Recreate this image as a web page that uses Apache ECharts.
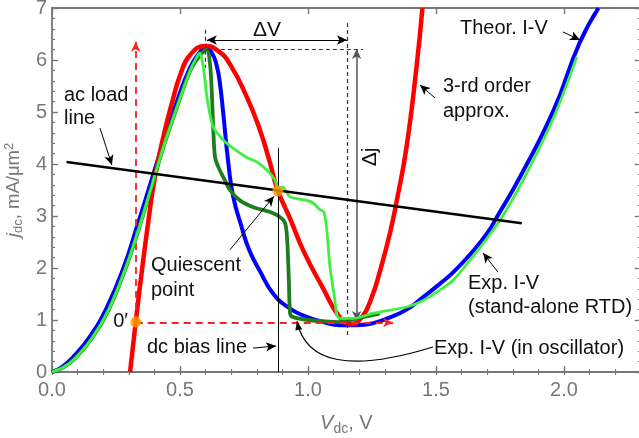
<!DOCTYPE html>
<html><head><meta charset="utf-8">
<script src="https://cdn.jsdelivr.net/npm/echarts@6/dist/echarts.min.js"></script>
<style>html,body{margin:0;padding:0;background:#fff}#c{width:639px;height:438px}</style>
</head><body><div id="c"></div>
<script>
// ---------- data ----------
const theorIV = [[0,0],[0.04,0.1],[0.083,0.29],[0.148,0.68],[0.214,1.24],[0.279,2.0],[0.331,2.78],[0.383,3.6],[0.435,4.42],[0.488,5.2],[0.539,5.85],[0.575,6.13],[0.60,6.25],[0.625,6.13],[0.643,5.9],[0.656,5.55],[0.669,4.97],[0.689,4.01],[0.708,3.37],[0.74,2.8],[0.77,2.35],[0.81,1.96],[0.865,1.5],[0.93,1.22],[0.995,1.06],[1.06,0.96],[1.125,0.9],[1.19,0.9],[1.255,0.94],[1.32,1.05],[1.385,1.2],[1.44,1.4],[1.516,1.7],[1.568,1.92],[1.64,2.3],[1.70,2.67],[1.738,2.98],[1.828,3.75],[1.96,5.04],[2.06,6.32],[2.135,7.0]];
const expStandalone = [[0,0],[0.045,0.09],[0.09,0.26],[0.155,0.64],[0.22,1.18],[0.285,1.96],[0.337,2.72],[0.39,3.58],[0.44,4.4],[0.49,5.12],[0.54,5.8],[0.566,6.06],[0.578,6.13],[0.588,5.95],[0.598,5.6],[0.605,5.29],[0.63,4.71],[0.669,4.46],[0.708,4.3],[0.76,4.13],[0.80,4.04],[0.84,3.88],[0.87,3.7],[0.885,3.52],[0.90,3.56],[0.93,3.37],[0.995,3.3],[1.02,3.25],[1.047,3.12],[1.062,3.08],[1.074,2.7],[1.086,2.02],[1.105,1.38],[1.113,1.1],[1.125,1.03],[1.176,1.03],[1.255,1.13],[1.385,1.25],[1.44,1.35],[1.516,1.58],[1.568,1.77],[1.66,2.32],[1.75,2.92],[1.84,3.69],[1.96,4.9],[2.05,6.06]];
const expOscillator = [[0,0],[0.045,0.09],[0.09,0.26],[0.155,0.64],[0.22,1.18],[0.285,1.96],[0.337,2.72],[0.39,3.58],[0.44,4.4],[0.49,5.12],[0.54,5.8],[0.58,6.1],[0.604,6.2],[0.617,5.94],[0.625,5.29],[0.63,4.65],[0.637,4.13],[0.65,3.94],[0.669,3.75],[0.695,3.5],[0.734,3.3],[0.786,3.17],[0.85,3.08],[0.89,2.98],[0.91,2.87],[0.918,2.6],[0.925,1.8],[0.93,1.13],[0.94,1.06],[1.0,1.0],[1.125,0.96],[1.19,1.03],[1.28,1.12]];
const cubicApprox = [[0.305,0],[0.327,0.96],[0.35,1.9],[0.375,2.85],[0.402,3.75],[0.441,4.65],[0.47,5.2],[0.50,5.7],[0.54,6.1],[0.60,6.27],[0.65,6.17],[0.695,5.92],[0.76,5.3],[0.8125,4.65],[0.85,4.05],[0.88,3.52],[0.93,2.95],[0.985,2.3],[1.06,1.6],[1.12,1.08],[1.165,0.92],[1.21,1.05],[1.25,1.45],[1.28,1.92],[1.32,2.67],[1.347,3.3],[1.385,4.33],[1.424,5.87],[1.447,7.0]];
const acLoadLine = [[0.057,4.04],[1.835,2.86]];
const specialPoints = [[0.882,3.48],[0.327,0.96]];
const xTickLabels = ['0.0','0.5','1.0','1.5','2.0'];
const yTickLabels = ['0','1','2','3','4','5','6','7'];

// annotation geometry in data coordinates
const pointerArrows = [
  [[0.1875,4.69],[0.234,3.98]],
  [[1.496,5.27],[1.4375,5.52]],
  [[1.996,6.54],[2.0625,6.385]],
  [[1.742,1.92],[1.684,2.29]],
  [[0.695,2.35],[0.867,3.38]],
  [[0.785,0.46],[0.875,0.5]]
];
const deltaV = [[0.605,6.385],[1.152,6.385]];
const deltaJ = [[1.19,6.21],[1.19,0.98]];
const blackDashed = [
  [[0.605,6.21],[1.215,6.21]],
  [[1.152,6.71],[1.152,0.67]],
  [[0.598,6.58],[0.598,5.85]]
];
const redDashedArrows = [
  [[0.327,0.96],[0.327,6.35]],
  [[0.327,0.95],[1.332,0.95]]
];
const biasVertical = [[0.882,0],[0.882,4.31]];
const hookArrow = [[1.488,0.48],[1.008,-0.25],[0.957,0.98]];

// ---------- chart ----------
const FONT = "'Liberation Sans', Arial, sans-serif";
const GRAY = '#787878';
const chart = echarts.init(document.getElementById('c'), null, {renderer:'canvas'});

function seg(a, b, style, s0, s1) {
  return [{coord:a, symbol:s0, lineStyle:style}, {coord:b, symbol:s1, lineStyle:style}];
}
const thin = {color:'#000', width:1, type:'solid'};
const mlData = [];
pointerArrows.forEach(p => mlData.push(seg(p[0], p[1], thin, 'none', 'arrow')));
mlData.push(seg(deltaV[0], deltaV[1], thin, 'arrow', 'arrow'));
mlData.push(seg(deltaJ[0], deltaJ[1], {color:'#555', width:1.5, type:'solid'}, 'arrow', 'arrow'));
blackDashed.forEach(p => mlData.push(seg(p[0], p[1], {color:'#333', width:1.2, type:[4,3]}, 'none', 'none')));
redDashedArrows.forEach(p => mlData.push(seg(p[0], p[1], {color:'#ff2020', width:1.8, type:[7,5]}, 'none', 'arrow')));
mlData.push(seg(biasVertical[0], biasVertical[1], {color:'#000', width:1, type:'solid'}, 'none', 'none'));

const tickLabelFmt = (arr, step) => v => {
  const i = Math.round(v / step);
  return Math.abs(v - i * step) < 1e-6 && arr[i] !== undefined ? arr[i] : '';
};

function textEl(t, x, y, opts) {
  return Object.assign({type:'text', x:x, y:y, z:100, silent:true,
    style:{text:t, font:'20px ' + FONT, fill:'#111', align:'left', verticalAlign:'middle'}}, opts || {});
}

const option = {
  animation:false,
  backgroundColor:'#fff',
  grid:{left:52, top:8, width:588.8, height:364, containLabel:false, outerBoundsMode:'none'},
  xAxis:[
    {type:'value', position:'bottom', min:0, max:2.3, interval:0.5,
     axisLine:{show:true, onZero:false, lineStyle:{color:GRAY, width:1.8}},
     axisTick:{show:true, inside:true, length:6, lineStyle:{color:GRAY, width:1.4}},
     axisLabel:{show:true, color:GRAY, fontSize:20, fontFamily:FONT, margin:8, formatter:tickLabelFmt(xTickLabels,0.5), showMaxLabel:false},
     splitLine:{show:false},
     name:'{i|V}{s|dc}{n|, V}', nameLocation:'middle', nameGap:38,
     nameTextStyle:{color:GRAY, fontFamily:FONT, fontSize:20, rich:{
       i:{fontStyle:'italic', fontSize:20, color:GRAY, fontFamily:FONT, lineHeight:26},
       s:{fontSize:14, color:GRAY, fontFamily:FONT, verticalAlign:'bottom', lineHeight:26},
       n:{fontSize:20, color:GRAY, fontFamily:FONT, lineHeight:26}}}},
    {type:'value', position:'bottom', offset:0, min:0, max:2.3, interval:0.1,
     axisLine:{show:false}, axisTick:{show:true, inside:true, length:3, lineStyle:{color:GRAY, width:1.2}},
     axisLabel:{show:false}, splitLine:{show:false}},
    {type:'value', position:'top', min:0, max:2.3, interval:0.5,
     axisLine:{show:true, onZero:false, lineStyle:{color:GRAY, width:1.8}},
     axisTick:{show:true, inside:true, length:6, lineStyle:{color:GRAY, width:1.4}},
     axisLabel:{show:false}, splitLine:{show:false}},
    {type:'value', position:'top', offset:0, min:0, max:2.3, interval:0.1,
     axisLine:{show:false}, axisTick:{show:true, inside:true, length:3, lineStyle:{color:GRAY, width:1.2}},
     axisLabel:{show:false}, splitLine:{show:false}}
  ],
  yAxis:[
    {type:'value', position:'left', min:0, max:7, interval:1,
     axisLine:{show:true, onZero:false, lineStyle:{color:GRAY, width:1.8}},
     axisTick:{show:true, inside:true, length:6, lineStyle:{color:GRAY, width:1.4}},
     minorTick:{show:true, splitNumber:5, length:3, lineStyle:{color:GRAY, width:1.2}},
     axisLabel:{show:true, color:GRAY, fontSize:20, fontFamily:FONT, margin:5, formatter:tickLabelFmt(yTickLabels,1)},
     splitLine:{show:false}, minorSplitLine:{show:false},
     name:'{i|j}{s|dc}{n|, mA/μm}{p|2}', nameLocation:'middle', nameGap:24, nameRotate:90,
     nameTextStyle:{color:GRAY, fontFamily:FONT, fontSize:18.5, rich:{
       i:{fontStyle:'italic', fontSize:19, color:GRAY, fontFamily:FONT, lineHeight:22},
       s:{fontSize:13, color:GRAY, fontFamily:FONT, verticalAlign:'bottom', lineHeight:22},
       n:{fontSize:18.5, color:GRAY, fontFamily:FONT, lineHeight:22},
       p:{fontSize:13, color:GRAY, fontFamily:FONT, verticalAlign:'top', lineHeight:22}}}},
    {type:'value', position:'right', min:0, max:7, interval:1,
     axisLine:{show:true, onZero:false, lineStyle:{color:GRAY, width:1.8}},
     axisTick:{show:true, inside:true, length:6, lineStyle:{color:GRAY, width:1.4}},
     minorTick:{show:true, splitNumber:5, length:3, lineStyle:{color:GRAY, width:1.2}},
     axisLabel:{show:false}, splitLine:{show:false}}
  ],
  series:[
    {type:'line', name:'Theor. I-V', data:theorIV, showSymbol:false, symbol:'none', smooth:0.5,
     lineStyle:{color:'#0000ff', width:4}, z:2},
    {type:'line', name:'3-rd order approx.', data:cubicApprox, showSymbol:false, symbol:'none', smooth:0.5,
     lineStyle:{color:'#ff0000', width:4.5}, z:3},
    {type:'line', name:'Exp. I-V (in oscillator)', data:expOscillator, showSymbol:false, symbol:'none', smooth:0.3,
     lineStyle:{color:'#1e7d1e', width:3.8}, z:4},
    {type:'line', name:'Exp. I-V (stand-alone RTD)', data:expStandalone, showSymbol:false, symbol:'none', smooth:0.3,
     lineStyle:{color:'#3ff03f', width:2.8}, z:5},
    {type:'line', name:'ac load line', data:acLoadLine, showSymbol:false, symbol:'none',
     lineStyle:{color:'#000', width:2.5}, z:6,
     markLine:{silent:true, symbol:['none','none'], symbolSize:[7,10], animation:false,
       label:{show:false}, emphasis:{disabled:true}, data:mlData}},
    {type:'custom', coordinateSystem:'cartesian2d', data:[[0,0]], clip:false, silent:true, z:7,
     renderItem:function(params, api){
       const p0 = api.coord(hookArrow[0]), c = api.coord(hookArrow[1]), p1 = api.coord(hookArrow[2]);
       let dx = p1[0]-c[0], dy = p1[1]-c[1]; const L = Math.hypot(dx,dy); dx/=L; dy/=L;
       const bx = p1[0]-dx*9, by = p1[1]-dy*9, nx = -dy*3.5, ny = dx*3.5;
       return {type:'group', children:[
         {type:'bezierCurve', shape:{x1:p0[0], y1:p0[1], cpx1:c[0], cpy1:c[1], x2:p1[0], y2:p1[1]},
          style:{stroke:'#000', lineWidth:1.2, fill:null}},
         {type:'polygon', shape:{points:[[p1[0],p1[1]],[bx+nx,by+ny],[bx-nx,by-ny]]}, style:{fill:'#000'}}
       ]};
     }},
    {type:'scatter', data:specialPoints, symbol:'circle', symbolSize:11,
     itemStyle:{color:'#ff9a00'}, z:10, silent:true}
  ],
  graphic:[
    textEl('ac load', 64, 95),
    textEl('line', 64, 118),
    textEl('3-rd order', 443, 86),
    textEl('approx.', 443, 111),
    textEl('Theor. I-V', 460, 28),
    textEl('Exp. I-V', 468, 283),
    textEl('(stand-alone RTD)', 468, 307),
    textEl('Exp. I-V (in oscillator)', 434, 348),
    textEl('Quiescent', 151, 265),
    textEl('point', 151, 290),
    textEl('dc bias line', 147, 347),
    textEl('0′', 128, 321, {style:{text:'0′', font:'20px ' + FONT, fill:'#111', align:'right', verticalAlign:'middle'}}),
    textEl('ΔV', 267, 30, {style:{text:'ΔV', font:'21px ' + FONT, fill:'#111', align:'center', verticalAlign:'middle'}}),
    textEl('Δj', 370, 157, {rotation:Math.PI/2, style:{text:'Δj', font:'21px ' + FONT, fill:'#111', align:'center', verticalAlign:'middle'}})
  ]
};
chart.setOption(option);
</script></body></html>
